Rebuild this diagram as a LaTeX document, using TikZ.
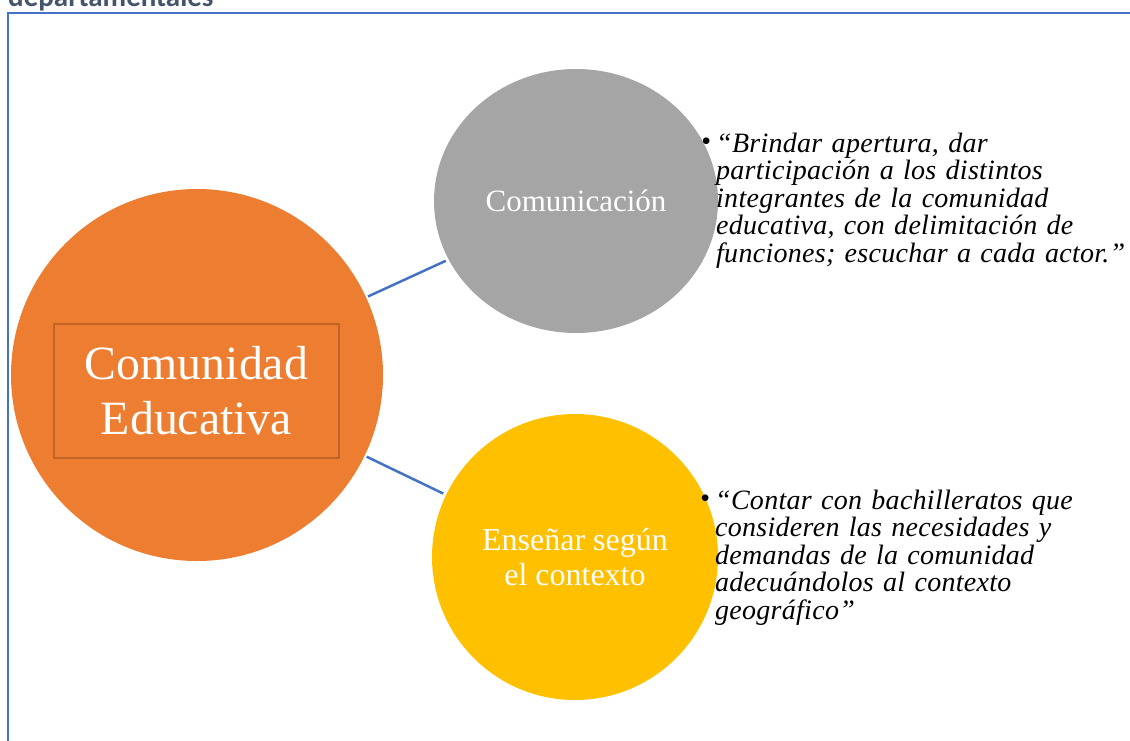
\documentclass[tikz,border=0pt]{standalone}
\usepackage{fontspec}
\setmainfont{Liberation Serif}
\newfontfamily\titlefont{Carlito}
\usetikzlibrary{shapes.geometric}

\begin{document}
\begin{tikzpicture}[x=1pt,y=-1pt,
  blob/.style={circle,inner sep=0pt,text=white,align=center},
  link/.style={draw=r68g114b196,line width=2.5pt,shorten <=2pt,shorten >=3pt},
  quote/.style={anchor=base west,inner sep=0pt,text width=440pt,align=left,
    font=\fontsize{28}{27.5}\selectfont\itshape\addfontfeatures{LetterSpace=1}}]
  \useasboundingbox (0,0) rectangle (1130,740);
  \clip (0,0) rectangle (1130,740);

  % Changing colors
  \definecolor{r68g114b196}{RGB}{68,114,196}%
  \definecolor{r68g84b106}{RGB}{68,84,106}%
  \definecolor{r237g125b49}{RGB}{237,125,49}%
  \definecolor{r193g98b38}{RGB}{193,98,38}%
  \definecolor{r165g165b165}{RGB}{165,165,165}%
  \definecolor{r255g192b0}{RGB}{255,192,0}%

  % Marking title (cut at the top)
  \node [anchor=base west,inner sep=0pt,text=r68g84b106,
    font=\titlefont\bfseries\fontsize{29}{30}\selectfont] (title) at (8,6.5) {departamentales};

  % Drawing frame
  \draw [r68g114b196,line width=1.6pt] (8,760) -- (8,13) -- (1150,13);

  % Drawing circle Comunidad Educativa
  \node [blob,fill=r237g125b49,minimum size=372pt] (edu) at (197,375) {};
  \node [draw=r193g98b38,line width=2.5pt,minimum width=285pt,minimum height=134pt,
    text=white,align=center,font=\fontsize{47.8}{55}\selectfont] (eduname) at (196.5,391)
    {Comunidad\\Educativa};

  % Drawing circles Comunicacion and contexto
  \node [blob,ellipse,fill=r165g165b165,minimum width=284pt,minimum height=264pt,
    font=\fontsize{31}{35}\selectfont] (com) at (576,201) {Comunicación};
  \node [blob,fill=r255g192b0,minimum size=286pt,
    font=\fontsize{32}{35}\selectfont] (ctx) at (575,557) {Enseñar según\\el contexto};

  % Drawing lines
  \draw [link] (edu) -- (com);
  \draw [link] (edu) -- (ctx);

  % Marking quotes
  \node [quote] (comq) at (716,152)
    {\llap{\raisebox{1.5pt}{\upshape\textbullet}\hspace{5pt}}“Brindar apertura, dar\\
     participación a los distintos\\
     integrantes de la comunidad\\
     educativa, con delimitación de\\
     funciones; escuchar a cada actor.”};
  \node [quote] (ctxq) at (715,509)
    {\llap{\raisebox{1.5pt}{\upshape\textbullet}\hspace{5pt}}“Contar con bachilleratos que\\
     consideren las necesidades y\\
     demandas de la comunidad\\
     adecuándolos al contexto\\
     geográfico”};
\end{tikzpicture}
\end{document}
